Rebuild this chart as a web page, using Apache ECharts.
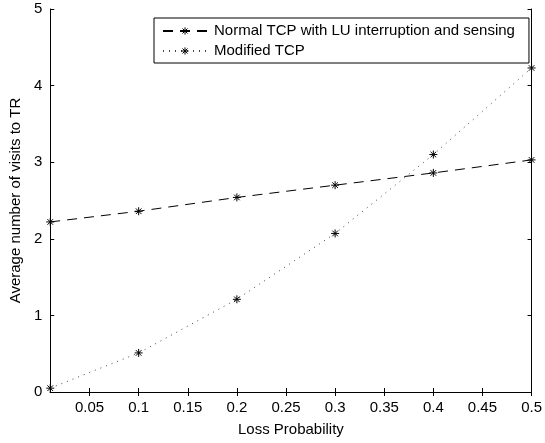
<!DOCTYPE html>
<html>
<head>
<meta charset="utf-8">
<script src="https://cdn.jsdelivr.net/npm/echarts@6/dist/echarts.min.js"></script>
<style>
	html, body { margin: 0; padding: 0; background: #fff; }
	#chart { width: 545px; height: 443px; }
</style>
</head>
<body>
<div id="chart"></div>
<script>
	// loss probability values
	var lossProb = [0.01, 0.1, 0.2, 0.3, 0.4, 0.5];
	var normalTcp = [2.22, 2.36, 2.54, 2.70, 2.86, 3.03];
	var modifiedTcp = [0.05, 0.51, 1.21, 2.07, 3.10, 4.23];
	var xTicks = [0.05, 0.1, 0.15, 0.2, 0.25, 0.3, 0.35, 0.4, 0.45, 0.5];
	var seriesNames = ['Normal TCP with LU interruption and sensing', 'Modified TCP'];

	var font = 'Liberation Sans, Arial, sans-serif';
	// asterisk marker
	var star = 'path://M0 5 L10 5 M5 0 L5 10 M1.5 1.5 L8.5 8.5 M8.5 1.5 L1.5 8.5';

	function pairs(xs, ys){
		var out = [];
		for (var i = 0; i < xs.length; i++) out.push([xs[i], ys[i]]);
		return out;
	}

	function fmt(v){ return String(+(+v).toFixed(2)); }

	var option = {
		animation: false,
		backgroundColor: '#fff',
		textStyle: { fontFamily: font, color: '#000' },
		grid: { left: 48, right: 12, top: 9, bottom: 51, show: false },
		legend: {
			orient: 'vertical',
			left: 154,
			top: 18,
			padding: [5, 14, 4, 8],
			itemGap: 4,
			itemWidth: 44,
			itemHeight: 9,
			borderColor: '#000',
			borderWidth: 1,
			borderRadius: 0,
			backgroundColor: '#fff',
			itemStyle: { color: 'none', borderColor: '#000', borderWidth: 1 },
			textStyle: { fontSize: 15, lineHeight: 16, color: '#000', fontFamily: font, padding: [0, 0, 0, 2] },
			data: seriesNames
		},
		xAxis: [{
			type: 'value',
			min: 0.01,
			max: 0.5,
			name: 'Loss Probability',
			nameLocation: 'middle',
			nameGap: 30,
			nameTextStyle: { fontSize: 15, color: '#000' },
			axisLine: { lineStyle: { color: '#000', width: 1 } },
			axisTick: { inside: true, length: 4, customValues: xTicks, lineStyle: { color: '#000' } },
			axisLabel: { customValues: xTicks, fontSize: 15, color: '#000', margin: 8, formatter: fmt },
			splitLine: { show: false }
		}, {
			type: 'value',
			position: 'top',
			min: 0.01,
			max: 0.5,
			axisLine: { lineStyle: { color: '#000', width: 1 } },
			axisTick: { inside: true, length: 4, customValues: xTicks, lineStyle: { color: '#000' } },
			axisLabel: { show: false },
			splitLine: { show: false }
		}],
		yAxis: [{
			type: 'value',
			min: 0,
			max: 5,
			interval: 1,
			name: 'Average number of visits to TR',
			nameLocation: 'middle',
			nameGap: 26,
			nameTextStyle: { fontSize: 15, color: '#000' },
			axisLine: { show: true, lineStyle: { color: '#000', width: 1 } },
			axisTick: { show: true, inside: true, length: 4, lineStyle: { color: '#000' } },
			axisLabel: { fontSize: 15, color: '#000', margin: 8 },
			splitLine: { show: false }
		}, {
			type: 'value',
			position: 'right',
			min: 0,
			max: 5,
			interval: 1,
			axisLine: { show: true, lineStyle: { color: '#000', width: 1 } },
			axisTick: { show: true, inside: true, length: 4, lineStyle: { color: '#000' } },
			axisLabel: { show: false },
			splitLine: { show: false }
		}],
		series: [{
			name: seriesNames[0],
			type: 'line',
			data: pairs(lossProb, normalTcp),
			symbol: star,
			symbolSize: 8,
			itemStyle: { color: 'none', borderColor: '#000', borderWidth: 1 },
			lineStyle: { color: '#000', width: 1, type: [10, 7] }
		}, {
			name: seriesNames[1],
			type: 'line',
			data: pairs(lossProb, modifiedTcp),
			symbol: star,
			symbolSize: 8,
			itemStyle: { color: 'none', borderColor: '#000', borderWidth: 1 },
			lineStyle: { color: '#444', width: 1, type: [1, 5] }
		}]
	};

	var chart = echarts.init(document.getElementById('chart'), null, { renderer: 'canvas' });
	chart.setOption(option);
</script>
</body>
</html>
